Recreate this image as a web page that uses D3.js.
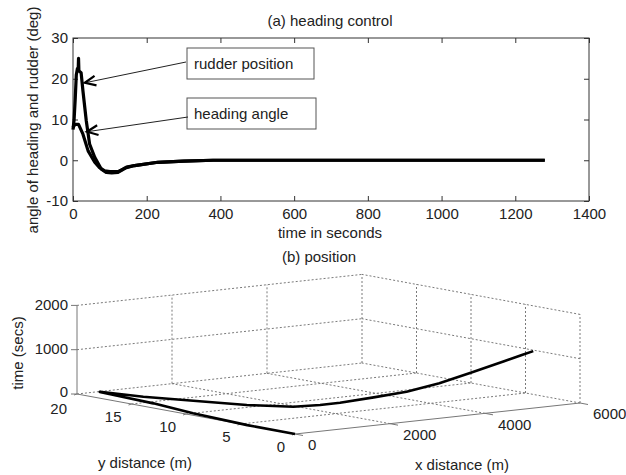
<!DOCTYPE html>
<html><head><meta charset="utf-8">
<script src="https://cdn.jsdelivr.net/npm/d3@7/dist/d3.min.js"></script>
<style>
body{margin:0;background:#fff}
text{font-family:"Liberation Sans",Arial,Helvetica,sans-serif;font-size:15px;fill:#222}
</style>
</head><body>
<svg id="c" width="626" height="475"></svg>
<script>
// ---------- data: (a) heading control ----------
const timeTicks = [0, 200, 400, 600, 800, 1000, 1200, 1400];
const angleTicks = [-10, 0, 10, 20, 30];
const rudderTime  = [0, 3, 6, 9, 12, 14, 15, 16, 18, 22, 27, 36, 45, 59, 77, 90, 105, 122, 135, 145, 167, 230, 300, 380, 500, 800, 1280];
const rudderAngle = [7.5, 10, 15, 21, 22.5, 22, 25, 22, 21.8, 21.5, 17, 9.7, 4, 0.7, -2.2, -3, -3.1, -3, -2.3, -1.8, -1.3, -0.5, -0.2, 0, 0, 0, 0];
const headingTime  = [0, 5, 15, 27, 41, 59, 72, 86, 100, 122, 135, 145, 167, 230, 300, 380, 800, 1280];
const headingAngle = [8, 8.8, 8.8, 6.4, 2.3, -0.5, -1.8, -2.6, -2.8, -2.8, -2.2, -1.7, -1.3, -0.5, -0.2, 0, 0, 0];
const annotations = ["rudder position", "heading angle"];

// ---------- data: (b) position ----------
const xDistTicks = [0, 2000, 4000, 6000];
const yDistTicks = [0, 5, 10, 15, 20];
const zTimeTicks = [0, 1000, 2000];
const pathX = [0, 5, 80, 185, 225, 250, 275, 375, 580, 798, 1069, 1330, 1567, 2023, 2487, 3062, 3700, 4402, 4776, 5016];
const pathY = [0, 4.4, 9.7, 13.8, 17.6, 19.0, 18.5, 15.55, 11.86, 7.9, 4.81, 3.5, 2.7, 1.6, 0.6, 0.1, 0, 0, 0, 0];
const pathT = [0, 1, 21, 47, 58, 64, 70, 96, 149, 205, 274, 341, 402, 519, 638, 785, 949, 1129, 1225, 1286];

const svg = d3.select("#c");

// ================= (a) =================
const x = d3.scaleLinear().domain([0, 1400]).range([73, 589]);
const y = d3.scaleLinear().domain([-10, 30]).range([201, 38]);
const ga = svg.append("g");
const axisCol = "#333";

ga.append("rect").attr("x", x(0)).attr("y", y(30)).attr("width", x(1400) - x(0)).attr("height", y(-10) - y(30))
  .attr("fill", "none").attr("stroke", axisCol).attr("stroke-width", 1);

const xb = ga.append("g").attr("transform", `translate(0,${y(-10)})`)
  .call(d3.axisBottom(x).tickValues(timeTicks).tickSize(-5).tickPadding(7).tickFormat(d3.format("d")));
const xt = ga.append("g").attr("transform", `translate(0,${y(30)})`)
  .call(d3.axisTop(x).tickValues(timeTicks).tickSize(-5).tickFormat(""));
const yl = ga.append("g").attr("transform", `translate(${x(0)},0)`)
  .call(d3.axisLeft(y).tickValues(angleTicks).tickSize(-5).tickPadding(5).tickFormat(d => d < 0 ? "-" + Math.abs(d) : d));
const yr = ga.append("g").attr("transform", `translate(${x(1400)},0)`)
  .call(d3.axisRight(y).tickValues(angleTicks).tickSize(-5).tickFormat(""));
[xb, xt, yl, yr].forEach(g => {
  g.select(".domain").remove();
  g.selectAll("line").attr("stroke", axisCol);
  g.selectAll("text").attr("font-size", 15).attr("fill", "#222").attr("font-family", null);
});

const line2 = d3.line().x(d => x(d[0])).y(d => y(d[1]));
ga.append("path").datum(rudderTime.map((t, i) => [t, rudderAngle[i]]))
  .attr("d", line2).attr("fill", "none").attr("stroke", "#000").attr("stroke-width", 3.2).attr("stroke-linejoin", "round");
ga.append("path").datum(headingTime.map((t, i) => [t, headingAngle[i]]))
  .attr("d", line2).attr("fill", "none").attr("stroke", "#000").attr("stroke-width", 3.2).attr("stroke-linejoin", "round");

// annotation boxes + arrows
const boxes = [
  {label: annotations[0], bx: 187, by: 48, bw: 127, bh: 31, from: [186, 62], tip: [x(32), y(19)]},
  {label: annotations[1], bx: 187, by: 98, bw: 129, bh: 31, from: [188, 117], tip: [x(38), y(7)]}
];
boxes.forEach(b => {
  ga.append("rect").attr("x", b.bx).attr("y", b.by).attr("width", b.bw).attr("height", b.bh)
    .attr("fill", "#fff").attr("stroke", "#555").attr("stroke-width", 1);
  ga.append("text").attr("x", b.bx + 7).attr("y", b.by + b.bh / 2).attr("dy", "0.35em").text(b.label);
  ga.append("line").attr("x1", b.from[0]).attr("y1", b.from[1]).attr("x2", b.tip[0]).attr("y2", b.tip[1])
    .attr("stroke", "#222").attr("stroke-width", 1);
  const ang = Math.atan2(b.from[1] - b.tip[1], b.from[0] - b.tip[0]);
  const L = 12, a = 0.42;
  const p1 = [b.tip[0] + L * Math.cos(ang + a), b.tip[1] + L * Math.sin(ang + a)];
  const p2 = [b.tip[0] + L * Math.cos(ang - a), b.tip[1] + L * Math.sin(ang - a)];
  ga.append("path").attr("d", `M${p1}L${b.tip}L${p2}`).attr("fill", "none").attr("stroke", "#000")
    .attr("stroke-width", 2.2).attr("stroke-linejoin", "miter");
});

ga.append("text").attr("x", 330).attr("y", 21).attr("dy", "0.35em").attr("text-anchor", "middle").text("(a) heading control");
ga.append("text").attr("x", 330).attr("y", 233).attr("dy", "0.35em").attr("text-anchor", "middle").text("time in seconds");
ga.append("text").attr("transform", "translate(33,120) rotate(-90)").attr("dy", "0.35em").attr("text-anchor", "middle")
  .text("angle of heading and rudder (deg)");

// ================= (b) 3D =================
const fx = d3.scaleLinear().domain([0, 6000]).range([0, 1]);
const fy = d3.scaleLinear().domain([0, 20]).range([0, 1]);
const fz = d3.scaleLinear().domain([0, 2000]).range([0, 1]);
const O = [295, 434], VX = [285, -31], VY = [-218, -40], VZ = [0, -88.6];
function P(X, Y, Z) {
  const a = fx(X), b = fy(Y), c = fz(Z);
  return [O[0] + a * VX[0] + b * VY[0] + c * VZ[0], O[1] + a * VX[1] + b * VY[1] + c * VZ[1]];
}
const gb = svg.append("g");
const gridCol = "#7a7a7a";
function seg(p, q, solid) {
  gb.append("line").attr("x1", p[0]).attr("y1", p[1]).attr("x2", q[0]).attr("y2", q[1])
    .attr("stroke", solid ? "#777" : gridCol).attr("stroke-width", 1)
    .attr("stroke-dasharray", solid ? null : "2,2");
}
const xmax = 6000, ymax = 20, zmax = 2000;
// floor
yDistTicks.forEach(v => { if (v !== 0) seg(P(0, v, 0), P(xmax, v, 0), false); });
xDistTicks.forEach(v => { if (v !== 0) seg(P(v, 0, 0), P(v, ymax, 0), false); });
// back wall y = 20
xDistTicks.forEach(v => { if (v !== 0) seg(P(v, ymax, 0), P(v, ymax, zmax), false); });
zTimeTicks.forEach(v => { if (v !== 0) seg(P(0, ymax, v), P(xmax, ymax, v), false); });
// side wall x = 6000
yDistTicks.forEach(v => { if (v !== ymax) seg(P(xmax, v, 0), P(xmax, v, zmax), false); });
zTimeTicks.forEach(v => { if (v !== 0) seg(P(xmax, 0, v), P(xmax, ymax, v), false); });
// axes
seg(P(0, 0, 0), P(xmax, 0, 0), true);
seg(P(0, 0, 0), P(0, ymax, 0), true);
seg(P(0, ymax, 0), P(0, ymax, zmax), true);
// ticks
zTimeTicks.forEach(v => {
  const p = P(0, ymax, v);
  seg([p[0] - 6, p[1]], p, true);
  gb.append("text").attr("x", p[0] - 9).attr("y", p[1] - (v === 0 ? 2.5 : 1)).attr("dy", "0.35em").attr("text-anchor", "end").text(d3.format("d")(v));
});
yDistTicks.forEach(v => {
  const p = P(0, v, 0);
  seg(p, [p[0] - 3, p[1] + 1], true);
  gb.append("text").attr("x", p[0] - 10).attr("y", p[1] + (v === ymax ? 15 : 12.5)).attr("dy", "0.35em").attr("text-anchor", "end").text(v);
});
xDistTicks.forEach(v => {
  const p = P(v, 0, 0);
  seg(p, [p[0] + 8, p[1] + 1.5], true);
  gb.append("text").attr("x", p[0] + 13).attr("y", p[1] + 11).attr("dy", "0.35em").attr("text-anchor", "start").text(v);
});
// trajectory
const line3 = d3.line().x(d => d[0]).y(d => d[1]);
gb.append("path").datum(pathX.map((v, i) => P(v, pathY[i], pathT[i])))
  .attr("d", line3).attr("fill", "none").attr("stroke", "#000").attr("stroke-width", 2.6).attr("stroke-linejoin", "round");

gb.append("text").attr("x", 319).attr("y", 257).attr("dy", "0.35em").attr("text-anchor", "middle").text("(b) position");
gb.append("text").attr("x", 145).attr("y", 463).attr("dy", "0.35em").attr("text-anchor", "middle").text("y distance (m)");
gb.append("text").attr("x", 462).attr("y", 465).attr("dy", "0.35em").attr("text-anchor", "middle").text("x distance (m)");
gb.append("text").attr("transform", "translate(18,353) rotate(-90)").attr("dy", "0.35em").attr("text-anchor", "middle").text("time (secs)");
</script>
</body></html>
